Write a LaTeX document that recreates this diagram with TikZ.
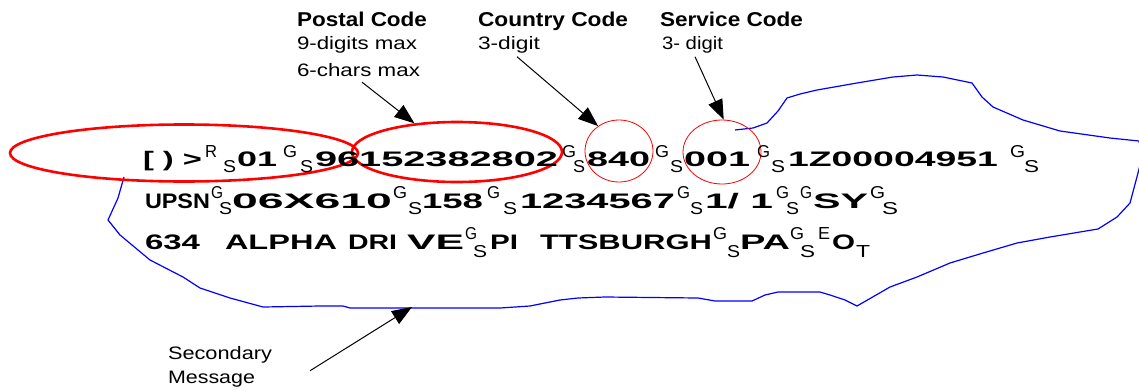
\documentclass[tikz,border=0pt]{standalone}
\usepackage{fontspec}
\setmainfont{Liberation Sans}
\usepackage{graphicx}
\usetikzlibrary{shapes.geometric,arrows.meta,calc}
\tikzset{
  tx/.style={anchor=base west, inner sep=0pt, outer sep=0pt},
  redring/.style={ellipse, draw=red, inner sep=0pt},
  arr/.style={draw=black, line width=1pt, -{Triangle[length=20pt,width=15pt]}},
  outline/.style={draw=blue, line width=1.2pt, line join=round}
}
\newcommand\myMain[5]{\node[tx] (#1) at (#2,#3) {\resizebox{#4pt}{\height}{\fontsize{21}{21}\selectfont\bfseries #5}};}
\newcommand\myScr[5]{\node[tx] (#1) at (#2,#3) {\resizebox{#4pt}{12pt}{\fontsize{16}{16}\selectfont #5}};}
\newcommand\myLab[5]{\node[tx] (#1) at (#2,#3) {\resizebox{#4pt}{\height}{\fontsize{18}{18}\selectfont #5}};}
\newcommand\myHead[5]{\node[tx] (#1) at (#2,#3) {\resizebox{#4pt}{\height}{\fontsize{20}{20}\selectfont\bfseries #5}};}
\begin{document}
\begin{tikzpicture}[x=1pt,y=-1pt]
\useasboundingbox[fill=white] (0,0) rectangle (1139,391);

% blue outline of the secondary message
\draw[outline] (735,130) -- (753,128) -- (767,123) -- (778,111) -- (787,98) -- (800,94) -- (817,90)
  -- (857,83) -- (893,77) -- (917,75) -- (943,77) -- (972,83) -- (977,90) -- (982,97) -- (993,107)
  -- (1023,120) -- (1060,131) -- (1110,138) -- (1139,141) -- (1142,157) -- (1138,173) -- (1130,203)
  -- (1117,217) -- (1098,229) -- (1050,237) -- (1017,243) -- (983,253) -- (950,263) -- (917,277)
  -- (890,287) -- (857,306) -- (845,300) -- (830,295) -- (820,292) -- (778,292) -- (765,295)
  -- (752,301) -- (715,301) -- (698,298) -- (605,297) -- (578,298) -- (560,300) -- (545,303)
  -- (530,306) -- (500,308) -- (437,308) -- (350,308) -- (343,306) -- (320,306) -- (263,307)
  -- (230,298) -- (200,288) -- (183,277) -- (150,260) -- (120,235) -- (108,220) -- (118,198) -- (124,177);
\coordinate (sectip) at (412,307);

% red rings
\node[redring, line width=2.6pt, minimum width=348pt, minimum height=57pt] (le) at (184,153) {};
\node[redring, line width=2.6pt, minimum width=210pt, minimum height=60pt] (pe) at (457,152) {};
\node[redring, line width=0.8pt, minimum width=68pt, minimum height=62pt] (ce) at (619,151) {};
\node[redring, line width=0.8pt, minimum width=78pt, minimum height=64pt] (se) at (722,152) {};

% row 1
\myMain{r1a}{143}{166}{59}{[ ) >}
\myScr{r1b}{205}{157}{12}{R}
\myScr{r1c}{223}{172}{13}{S}
\myMain{r1d}{237}{166}{40}{01}
\myScr{r1e}{283}{157}{14}{G}
\myScr{r1f}{300}{172}{13}{S}
\myMain{r1g}{315}{166}{243}{96152382802}
\myScr{r1h}{562}{157}{14}{G}
\myScr{r1i}{573}{172}{12}{S}
\myMain{r1j}{587}{166}{63}{840}
\myScr{r1k}{655}{157}{14}{G}
\myScr{r1l}{670}{172}{13}{S}
\myMain{r1m}{684}{166}{66}{001}
\myScr{r1n}{757}{157}{13}{G}
\myScr{r1o}{771}{172}{14}{S}
\myMain{r1p}{788}{166}{210}{1Z00004951}
\myScr{r1q}{1010}{157}{15}{G}
\myScr{r1r}{1024}{172}{15}{S}

% row 2
\myMain{r2a}{145}{208}{65}{UPSN}
\myScr{r2b}{211}{198}{12}{G}
\myScr{r2c}{219}{214}{13}{S}
\myMain{r2d}{232}{208}{160}{06X610}
\myScr{r2e}{393}{198}{14}{G}
\myScr{r2f}{408}{214}{14}{S}
\myMain{r2g}{422}{208}{61}{158}
\myScr{r2h}{487}{198}{13}{G}
\myScr{r2i}{503}{214}{14}{S}
\myMain{r2j}{520}{208}{155}{1234567}
\myScr{r2k}{677}{198}{13}{G}
\myScr{r2l}{690}{214}{13}{S}
\myMain{r2m}{705}{208}{68}{1/ 1}
\myScr{r2n}{776}{198}{13}{G}
\myScr{r2o}{786}{214}{13}{S}
\myScr{r2p}{800}{198}{12}{G}
\myMain{r2q}{813}{208}{55}{SY}
\myScr{r2r}{870}{198}{15}{G}
\myScr{r2s}{882}{214}{16}{S}

% row 3
\myMain{r3a}{145}{249}{55}{634}
\myMain{r3b}{225}{249}{112}{ALPHA}
\myMain{r3c}{348}{249}{49}{DRI}
\myMain{r3d}{407}{249}{57}{VE}
\myScr{r3e}{465}{239}{12}{G}
\myScr{r3f}{473}{257}{14}{S}
\myMain{r3g}{490}{249}{28}{PI}
\myMain{r3h}{540}{249}{172}{TTSBURGH}
\myScr{r3i}{713}{239}{14}{G}
\myScr{r3j}{727}{257}{13}{S}
\myMain{r3k}{740}{249}{50}{PA}
\myScr{r3l}{790}{239}{14}{G}
\myScr{r3m}{800}{257}{15}{S}
\myScr{r3n}{818}{239}{12}{E}
\myMain{r3o}{832}{249}{23}{O}
\myScr{r3p}{856}{257}{14}{T}

% labels
\myHead{pc1}{297}{26}{130}{Postal Code}
\myLab{pc2}{297}{49}{120}{9-digits max}
\myLab{pc3}{297}{76}{123}{6-chars max}
\myHead{cc1}{478}{26}{150}{Country Code}
\myLab{cc2}{478}{49}{62}{3-digit}
\myHead{sc1}{660}{26}{143}{Service Code}
\myLab{sc2}{662}{49}{61}{3- digit}
\myLab{sm1}{168}{359}{104}{Secondary}
\myLab{sm2}{168}{383}{87}{Message}

% arrows
\draw[arr] ($(pc3.south west)+(65,6)$) -- (pe.146);
\draw[arr] ($(cc2.south west)+(39,4)$) -- (ce.130);
\draw[arr] ($(sc2.south west)+(33,4)$) -- (se.87);
\draw[arr] ($(sm1.south east)+(38,8)$) -- (sectip);
\end{tikzpicture}
\end{document}
